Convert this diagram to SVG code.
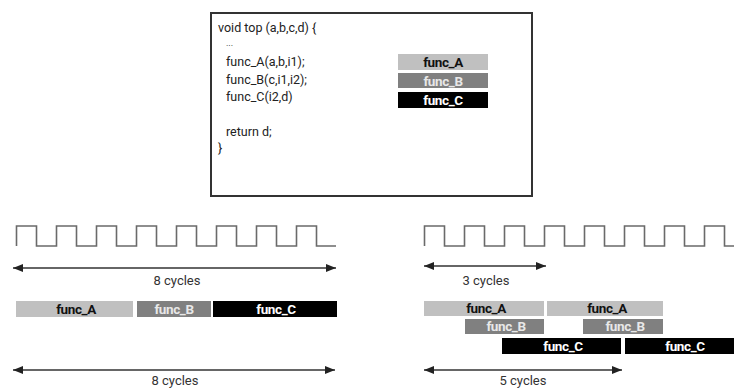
<svg xmlns="http://www.w3.org/2000/svg" width="734" height="389" viewBox="0 0 734 389">
  <defs>
    <marker id="arrowHead" viewBox="0 0 10 8" refX="10" refY="4" markerWidth="10" markerHeight="8" markerUnits="userSpaceOnUse" orient="auto-start-reverse">
      <path d="M0,0 L10,4 L0,8 Z" fill="#222"/>
    </marker>
  </defs>
  <style>
    .code { font-family: Roboto, "Liberation Sans", sans-serif; font-size: 12.5px; fill: #222; }
    .dots { font-size: 9px; }
    .lbl { font-family: Roboto, "Liberation Sans", sans-serif; font-size: 13.5px; font-weight: bold; letter-spacing: -0.4px; text-anchor: middle; }
    .cyc { font-family: Roboto, "Liberation Sans", sans-serif; font-size: 13px; fill: #333; text-anchor: middle; }
    .fa { fill: #c0c0c0; }
    .fb { fill: #808080; }
    .fc { fill: #000; }
    .ta { fill: #111; }
    .tb { fill: #e8e8e8; }
    .tc { fill: #fff; }
    .clock { fill: none; stroke: #6a6a6a; stroke-width: 1.6; }
    .span { stroke: #333; stroke-width: 1.5; marker-start: url(#arrowHead); marker-end: url(#arrowHead); }
  </style>
  <rect width="734" height="389" fill="#fff"/>

  <!-- source listing -->
  <g id="code-box">
    <rect x="211" y="13" width="321" height="183" fill="#fff" stroke="#333" stroke-width="2"/>
    <text class="code" x="218" y="32">void top (a,b,c,d) {</text>
    <text class="code dots" x="226" y="46">...</text>
    <text class="code" x="226" y="66">func_A(a,b,i1);</text>
    <text class="code" x="226" y="84">func_B(c,i1,i2);</text>
    <text class="code" x="226" y="101">func_C(i2,d)</text>
    <text class="code" x="226" y="136">return d;</text>
    <text class="code" x="218" y="152">}</text>
  </g>

  <!-- legend -->
  <g id="legend-a"><rect class="fa" x="398" y="54" width="90" height="16"/><text class="lbl ta" x="443" y="66.5">func_A</text></g>
  <g id="legend-b"><rect class="fb" x="398" y="73" width="90" height="15"/><text class="lbl tb" x="443" y="85.5">func_B</text></g>
  <g id="legend-c"><rect class="fc" x="398" y="92" width="90" height="16"/><text class="lbl tc" x="443" y="104.5">func_C</text></g>

  <!-- clocks -->
  <g id="clock-left">
    <path class="clock" d="M16.5,246 V226 H36.5 V246 H56.5 V226 H76.5 V246 H96.5 V226 H116.5 V246 H136.5 V226 H156.5 V246 H176.5 V226 H196.5 V246 H216.5 V226 H236.5 V246 H256.5 V226 H276.5 V246 H296.5 V226 H316.5 V246 H336"/>
  </g>
  <g id="clock-right">
    <path class="clock" d="M424.5,246 V226 H444.5 V246 H464.5 V226 H484.5 V246 H504.5 V226 H524.5 V246 H544.5 V226 H564.5 V246 H584.5 V226 H604.5 V246 H624.5 V226 H644.5 V246 H664.5 V226 H684.5 V246 H704.5 V226 H724.5 V246 H740"/>
  </g>

  <!-- sequential schedule -->
  <g id="seq-a"><rect class="fa" x="16" y="301" width="117" height="16"/><text class="lbl ta" x="76" y="313.5">func_A</text></g>
  <g id="seq-b"><rect class="fb" x="137" y="301" width="74" height="16"/><text class="lbl tb" x="174" y="313.5">func_B</text></g>
  <g id="seq-c"><rect class="fc" x="213" y="301" width="124" height="16"/><text class="lbl tc" x="276" y="313.5">func_C</text></g>

  <!-- pipelined schedule -->
  <g id="pipe-a1"><rect class="fa" x="424" y="301" width="120" height="15"/><text class="lbl ta" x="486" y="313">func_A</text></g>
  <g id="pipe-a2"><rect class="fa" x="547" y="301" width="116" height="15"/><text class="lbl ta" x="607" y="313">func_A</text></g>
  <g id="pipe-b1"><rect class="fb" x="465" y="319" width="79" height="15"/><text class="lbl tb" x="506" y="331">func_B</text></g>
  <g id="pipe-b2"><rect class="fb" x="583" y="319" width="80" height="15"/><text class="lbl tb" x="625" y="331">func_B</text></g>
  <g id="pipe-c1"><rect class="fc" x="502" y="338" width="119" height="16"/><text class="lbl tc" x="563" y="350.5">func_C</text></g>
  <g id="pipe-c2"><rect class="fc" x="625" y="338" width="120" height="16"/><text class="lbl tc" x="685" y="350.5">func_C</text></g>

  <!-- spans -->
  <g id="connectors">
    <line class="span" x1="13" y1="268" x2="336" y2="268"/>
    <line class="span" x1="424" y1="266" x2="546" y2="266"/>
    <line class="span" x1="13" y1="370" x2="335" y2="370"/>
    <line class="span" x1="424" y1="370" x2="622" y2="370"/>
  </g>
  <g id="span-labels">
    <text class="cyc" x="177" y="285">8 cycles</text>
    <text class="cyc" x="486" y="285">3 cycles</text>
    <text class="cyc" x="175" y="385">8 cycles</text>
    <text class="cyc" x="523" y="385">5 cycles</text>
  </g>
</svg>
